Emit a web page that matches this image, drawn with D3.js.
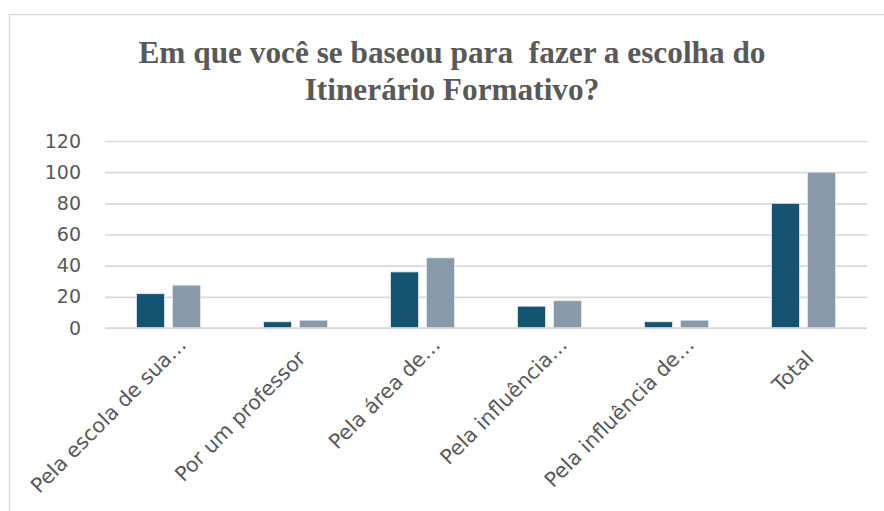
<!DOCTYPE html>
<html>
<head>
<meta charset="utf-8">
<script src="https://cdn.jsdelivr.net/npm/d3@7"></script>
<style>
  html, body { margin: 0; padding: 0; background: #fff; }
  svg { display: block; }
</style>
</head>
<body>
<svg id="chart" width="884" height="511"></svg>
<script>
const titleLines = ["Em que você se baseou para  fazer a escolha do", "Itinerário Formativo?"];
const categories = ["Pela escola de sua…", "Por um professor", "Pela área de…", "Pela influência…", "Pela influência de…", "Total"];
const seriesNames = ["Quantidade", "Percentual"];
const seriesQuantidade = [22, 4, 36, 14, 4, 80];
const seriesPercentual = [27.5, 5, 45, 17.5, 5, 100];
const yTicks = [0, 20, 40, 60, 80, 100, 120];
const colors = ["#145470", "#8899aa"];

const svg = d3.select("#chart");
const W = 884, H = 511;
const margin = { left: 105, right: 17, top: 141, bottom: 183 };
const plotW = W - margin.left - margin.right;
const plotBottom = H - margin.bottom;

// Outer chart frame
svg.append("rect")
  .attr("x", 9.5).attr("y", 14.5)
  .attr("width", W + 20).attr("height", H + 20)
  .attr("fill", "#fff").attr("stroke", "#d9d9d9").attr("stroke-width", 1.5);

// Title
const title = svg.append("text")
  .attr("text-anchor", "middle")
  .attr("font-family", "'Liberation Serif', 'Times New Roman', serif")
  .attr("font-weight", "bold")
  .attr("font-size", 31.3)
  .attr("fill", "#595959")
  .style("white-space", "pre");
titleLines.forEach((t, i) => {
  title.append("tspan").attr("x", 452).attr("y", 63 + i * 37).text(t);
});

const x0 = d3.scaleBand().domain(categories).range([margin.left, margin.left + plotW]).paddingInner(0).paddingOuter(0);
const bw = x0.bandwidth();
const x1 = d3.scaleBand().domain(seriesNames).range([bw / 2 - 32, bw / 2 + 32]).paddingInner(0.222).paddingOuter(0);
const y = d3.scaleLinear().domain([0, 120]).range([plotBottom, margin.top]);

// Gridlines
const grid = svg.append("g").attr("transform", `translate(${margin.left},0)`)
  .call(d3.axisLeft(y).tickValues(yTicks).tickSize(-plotW).tickFormat(""));
grid.select(".domain").remove();
grid.selectAll(".tick line").attr("stroke", "#d9d9d9").attr("stroke-width", 1.6);

// Y labels
const yAxis = svg.append("g").attr("transform", `translate(81,0)`)
  .call(d3.axisLeft(y).tickValues(yTicks).tickSize(0).tickPadding(0));
yAxis.select(".domain").remove();
yAxis.selectAll("text")
  .attr("font-family", "'DejaVu Sans', sans-serif")
  .attr("font-size", 19)
  .attr("fill", "#595959");

// Bars
const data = categories.map((c, i) => ({ cat: c, vals: [seriesQuantidade[i], seriesPercentual[i]] }));
const groups = svg.append("g").selectAll("g").data(data).join("g")
  .attr("transform", d => `translate(${x0(d.cat)},0)`);
groups.selectAll("rect").data(d => d.vals.map((v, j) => ({ s: seriesNames[j], v, j })))
  .join("rect")
  .attr("x", d => x1(d.s))
  .attr("width", x1.bandwidth())
  .attr("y", d => y(d.v))
  .attr("height", d => plotBottom - y(d.v))
  .attr("fill", d => colors[d.j])
  .attr("stroke", "#e4eaf0")
  .attr("stroke-width", 0.8);

// Bottom axis line
svg.append("line")
  .attr("x1", margin.left).attr("x2", margin.left + plotW)
  .attr("y1", plotBottom).attr("y2", plotBottom)
  .attr("stroke", "#d9d9d9").attr("stroke-width", 1.6);

// X labels rotated
const xAxis = svg.append("g").attr("transform", `translate(0,${plotBottom})`)
  .call(d3.axisBottom(x0).tickSize(0).tickPadding(0));
xAxis.select(".domain").remove();
xAxis.selectAll(".tick text")
  .attr("font-family", "'DejaVu Sans', sans-serif")
  .attr("font-size", 20.5)
  .attr("fill", "#595959")
  .attr("text-anchor", "end")
  .attr("y", 0)
  .attr("transform", "translate(19,18) rotate(-45)")
  .attr("dx", d => d.endsWith("…") ? 0 : -15)
  .attr("dy", d => d.endsWith("…") ? 0 : 4);
</script>
</body>
</html>
